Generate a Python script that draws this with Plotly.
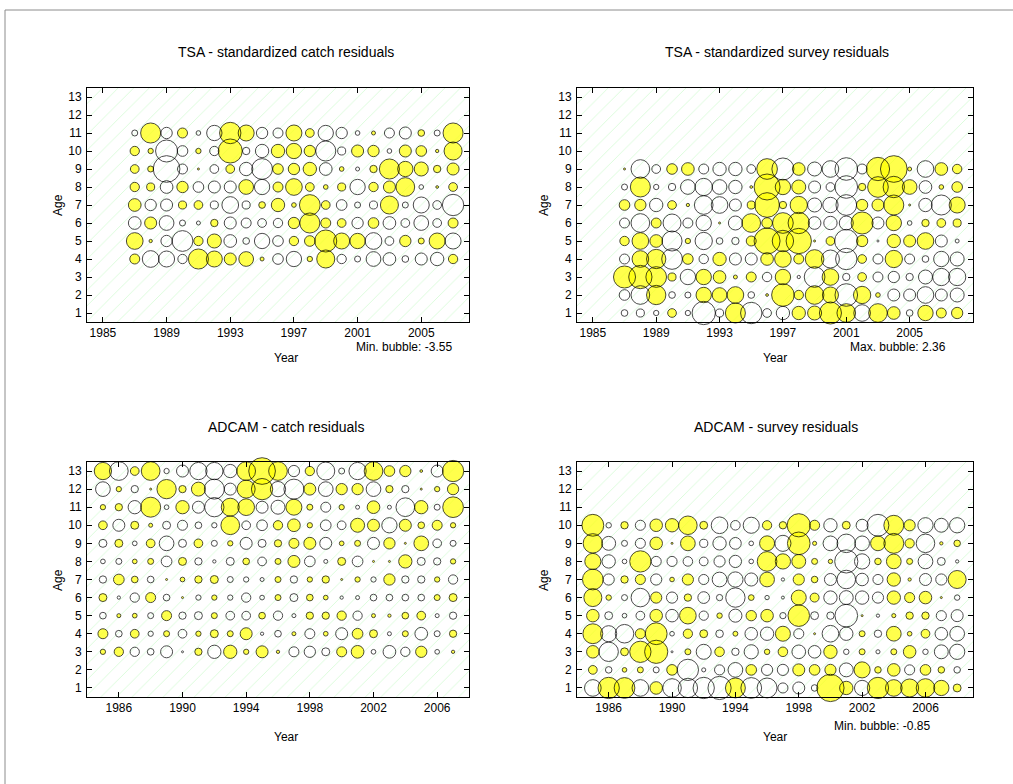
import plotly.graph_objects as go

W, H = 1013, 784

# ---------------- data ----------------
# Panel 1: TSA standardized catch residuals (rows = ages, cols = years)
tsa_catch_years = list(range(1987, 2008))
tsa_catch_ages = [4, 5, 6, 7, 8, 9, 10, 11]
tsa_catch_res = [
    [1.33, -2.22, -2.13, -1.24, 2.67, 2.13, 1.6, 1.96, 0.53, -1.42, -2.04, 0.71, 2.4, -1.24, -0.8, -1.96, -1.69, -0.89, -1.6, -1.78, 1.24],
    [2.22, 0.44, -1.51, -2.76, 1.24, 1.87, -1.69, -0.89, -2.04, -1.42, 1.24, 1.42, 2.93, 2.13, 2.04, -2.22, -1.16, 1.51, 0.8, 2.13, -2.13],
    [-1.69, 1.6, -1.96, -0.8, -0.53, 0.98, -1.6, -1.33, -1.16, -1.24, 1.51, 2.67, 1.33, 1.16, -1.51, 1.42, -1.69, -1.16, -1.96, -1.16, 1.33],
    [1.69, -1.51, -1.6, 1.07, 1.16, -1.07, -2.22, -1.07, 0.89, 1.78, 0.62, 2.76, 1.16, -1.42, -0.8, -1.07, 2.4, -0.8, -2.13, -1.16, -2.84],
    [1.24, 1.07, -1.69, 1.51, -1.42, -1.6, -1.6, 1.96, -2.04, 1.33, 2.22, 1.16, 0.62, 1.07, -2.04, 1.24, 1.6, 2.49, -0.62, 0.36, 1.16],
    [1.16, 0.8, -3.55, -1.33, 0.27, -1.16, 1.16, -1.78, -2.76, 1.42, 1.51, 1.78, -1.69, 0.62, -0.53, 0.98, 2.67, 2.04, 1.87, 0.98, 1.6],
    [1.24, 0.71, -2.93, -1.42, 0.71, -1.24, 3.2, -0.98, -1.78, 1.78, 2.04, 1.51, -2.67, -1.07, 1.6, 1.51, -0.62, 1.6, 1.42, 0.44, 2.4],
    [-0.8, 2.67, -1.51, 1.33, -0.62, -2.04, 2.84, 2.13, -1.51, -1.33, 2.13, 1.16, -2.04, -1.51, -0.62, 0.53, -1.33, -1.6, 0.89, -0.8, 2.67],
]

# Panel 2: TSA standardized survey residuals
tsa_survey_years = list(range(1987, 2009))
tsa_survey_ages = [1, 2, 3, 4, 5, 6, 7, 8, 9]
tsa_survey_res = [
    [-0.59, -0.71, -0.47, 0.77, -0.47, -2.06, -0.71, 1.77, -1.89, -0.77, -1.18, 1.18, 1.24, 1.95, 1.65, -1.47, 1.65, 1.12, -0.59, 1.36, 0.88, 1.0],
    [-0.94, -1.65, 1.71, -0.59, -0.53, 1.36, 1.3, 1.47, -0.59, 0.24, 2.0, 0.83, 1.65, 1.42, -2.0, 1.53, 0.41, -1.06, -1.06, -1.47, -1.06, -1.24],
    [1.95, 2.06, 1.83, 0.71, -1.36, 1.36, 1.12, 0.35, 0.88, -0.83, 1.36, -0.29, -1.83, 1.47, -0.65, 0.77, -0.88, -1.0, -0.65, -1.24, -1.53, -1.53],
    [-0.88, 1.47, 1.71, -1.83, 0.94, -0.83, 1.18, -1.06, -1.06, 1.12, 1.47, 0.88, 1.65, -1.59, -1.89, 0.77, -0.88, 1.53, -0.88, -0.59, -1.36, -1.24],
    [0.83, 1.47, 1.12, -1.77, 0.47, -1.53, -0.59, -0.65, 0.88, 2.3, 1.89, 2.24, 0.18, 0.77, -2.06, 1.0, -0.18, 1.18, 1.06, 1.47, -1.06, -0.35],
    [-0.88, -1.65, 0.88, -1.59, -0.88, -1.36, 0.18, -1.24, 1.65, 0.94, 1.83, 1.89, -1.12, -1.18, -1.24, 1.95, -1.06, 1.36, -0.41, 0.65, 0.77, 0.71],
    [0.94, 1.0, -1.18, 0.77, 0.29, -1.65, -1.47, -1.06, 0.71, 2.18, 0.65, 1.53, -1.24, -1.36, -1.83, 1.0, 1.06, 1.77, 0.05, -1.18, -1.77, 1.42],
    [-0.53, 1.77, -0.47, -0.65, -1.3, -1.53, -1.3, -1.18, 0.24, 2.3, 1.36, 1.24, -1.06, -0.77, -2.0, 0.65, 1.83, 1.89, 1.3, -1.12, 0.41, 0.94],
    [0.18, -1.65, -0.77, 0.94, 1.12, -0.88, -1.18, -1.18, -0.77, 1.83, -1.95, 1.12, -1.24, -1.47, -2.0, -0.88, 2.06, 2.36, 0.35, -1.47, 1.12, 0.83],
]

# Panel 3: ADCAM catch residuals
adcam_catch_years = list(range(1985, 2008))
adcam_catch_ages = [3, 4, 5, 6, 7, 8, 9, 10, 11, 12, 13]
adcam_catch_res = [
    [0.53, 0.93, -0.93, -0.67, -1.2, -0.13, 0.73, -1.33, 1.33, 0.53, 1.2, 0.33, -1.0, -1.13, -0.8, 1.0, 1.27, -0.47, -1.27, -0.93, 1.13, -0.47, 0.33],
    [1.0, -0.67, 0.87, -0.53, 0.6, -0.87, 0.53, 0.8, 0.6, 1.2, -0.33, -0.67, 0.4, -1.0, 0.47, -1.2, 1.07, 0.8, -0.4, 0.6, -1.27, -0.6, 0.73],
    [-0.67, 0.4, 0.47, -0.6, 1.0, -0.73, -0.8, 0.6, -0.87, -0.87, 0.67, -0.93, -0.4, 0.73, 0.73, 0.93, -0.93, 0.4, 0.33, 0.67, 0.87, -0.4, -0.73],
    [0.8, -0.33, -0.93, 1.0, -0.67, 0.13, -0.53, 0.53, -0.53, -0.93, -0.47, 0.6, -0.8, 0.67, 0.47, -0.33, -0.4, -0.67, -0.67, -0.67, -0.67, 0.6, 0.8],
    [-0.73, 1.07, 0.67, -0.67, 0.2, 0.47, 0.73, 0.8, -0.6, -0.53, -0.4, 0.6, -0.73, 0.53, 0.73, 0.2, 0.53, -0.53, 1.13, -0.73, -0.73, 0.53, -0.93],
    [-0.47, -0.6, 0.47, 0.6, -1.07, 0.8, -0.73, -0.33, -0.8, 0.67, -0.87, 0.6, 1.2, -1.07, -0.4, 0.8, -1.07, 0.13, 0.13, 1.33, -0.8, -0.73, 0.53],
    [-0.8, 0.8, -0.47, 0.87, -1.47, -0.8, 0.87, -0.6, 0.53, -1.2, -0.8, 0.73, 1.0, 1.2, -1.2, 0.47, 0.6, -1.2, 1.13, 0.2, 1.47, -0.87, -0.6],
    [0.87, -1.2, 0.8, 0.4, -0.8, -1.0, -0.67, -0.53, 1.87, -0.87, -1.07, 0.93, 1.27, 0.53, -1.07, -0.87, 1.4, 1.2, -1.53, 1.2, 0.67, 1.0, 0.53],
    [0.53, 0.73, -1.33, 2.0, -0.47, 1.33, -1.2, -1.93, 1.8, 1.67, -1.2, -1.4, 1.6, 0.6, -1.0, 0.53, -0.4, 1.27, -0.4, -1.87, 1.33, -0.6, 2.07],
    [-1.47, 0.53, -0.73, 0.2, 1.93, 0.73, 1.4, -2.0, -1.2, 1.8, 2.13, -1.53, -2.0, 1.2, -1.47, 1.13, 1.13, -1.47, 0.73, -0.73, 0.2, 0.53, 1.13],
    [1.73, -1.87, 0.87, 1.87, -0.53, -1.2, -1.73, -1.73, -1.33, 1.87, 2.67, 1.87, -1.13, 0.93, -1.8, -0.6, -1.73, 1.87, 1.07, 1.13, 0.27, -1.2, 2.13],
]

# Panel 4: ADCAM survey residuals
adcam_survey_years = list(range(1985, 2009))
adcam_survey_ages = [1, 2, 3, 4, 5, 6, 7, 8, 9, 10]
adcam_survey_res = [
    [-0.61, 0.78, 0.76, -0.61, 0.46, -0.68, -0.71, -0.78, -0.85, 0.73, -0.76, -0.73, -0.37, -0.44, -0.24, 1.0, 0.49, -0.56, 0.78, 0.61, 0.66, 0.68, 0.56, 0.29],
    [0.32, -0.24, 0.17, 0.22, -0.22, 0.39, -0.78, -0.15, -0.37, -0.54, 0.39, -0.41, -0.41, 0.44, 0.39, 0.41, -0.51, 0.59, 0.24, 0.46, -0.37, 0.39, 0.24, -0.24],
    [0.46, -0.71, 0.29, 0.78, 0.85, -0.05, 0.22, -0.55, 0.35, -0.27, -0.52, 0.2, 0.35, -0.5, -0.46, 0.49, -0.2, 0.22, -0.15, 0.22, 0.46, -0.2, -0.51, -0.56],
    [0.73, -0.59, -0.68, 0.37, 0.8, -0.17, 0.34, 0.29, -0.28, 0.18, -0.46, -0.49, 0.55, -0.37, 0.05, -0.61, -0.49, 0.22, -0.27, 0.54, 0.17, 0.32, -0.46, -0.54],
    [0.46, -0.29, -0.17, -0.32, 0.46, -0.46, 0.61, -0.34, 0.2, -0.48, 0.38, 0.46, -0.23, 0.79, -0.29, -0.27, -0.83, 0.07, -0.12, 0.15, 0.27, 0.27, -0.37, -0.44],
    [0.66, 0.2, -0.22, -0.68, 0.41, -0.41, 0.27, -0.43, -0.23, -0.71, 0.21, -0.16, -0.11, 0.55, 0.33, -0.49, -0.51, -0.49, -0.41, 0.49, 0.37, 0.46, 0.07, -0.2],
    [0.76, -0.41, 0.27, 0.37, -0.41, 0.17, 0.41, -0.37, -0.54, -0.56, -0.48, 0.54, -0.12, 0.41, 0.24, -0.44, -0.68, -0.46, -0.37, 0.49, 0.12, -0.44, -0.41, 0.66],
    [0.59, -0.49, -0.17, 0.78, -0.37, -0.37, -0.35, -0.32, -0.41, -0.45, -0.17, 0.72, 0.56, 0.51, 0.22, 0.16, -0.85, -0.56, 0.24, 0.54, 0.22, -0.54, -0.29, -0.12],
    [0.71, -0.51, -0.22, -0.37, 0.46, 0.05, 0.54, -0.3, -0.49, -0.43, -0.17, 0.55, -0.59, 0.83, 0.15, -0.54, -0.68, -0.54, 0.54, 0.73, 0.34, -0.68, 0.12, 0.24],
    [0.8, -0.2, 0.27, -0.37, 0.46, 0.49, 0.68, 0.29, -0.61, -0.35, -0.59, 0.34, 0.27, 0.85, 0.37, -0.49, 0.29, -0.44, -0.8, 0.73, 0.41, -0.56, -0.51, -0.56],
]

panel_titles = ["TSA - standardized catch residuals", "TSA - standardized survey residuals",
                "ADCAM - catch residuals", "ADCAM - survey residuals"]
bubble_notes = ["Min. bubble: -3.55", "Max. bubble: 2.36", "", "Min. bubble: -0.85"]
xtick_sets = [list(range(1985, 2006, 4)), list(range(1985, 2006, 4)),
              list(range(1986, 2007, 4)), list(range(1986, 2007, 4))]
y_ticks = list(range(1, 14))

# ---------------- layout geometry (pixels) ----------------
panels = [
    dict(years=tsa_catch_years, ages=tsa_catch_ages, res=tsa_catch_res,
         box=(87, 88, 469, 322), xr=[1984, 2008], note_xy=(404, 347), title_xy=(286, 52),
         year_xy=(286, 358), age_xy=(58, 205), maxd=26.7),
    dict(years=tsa_survey_years, ages=tsa_survey_ages, res=tsa_survey_res,
         box=(577, 88, 973, 322), xr=[1984, 2009], note_xy=(898, 347), title_xy=(777, 52),
         year_xy=(775, 358), age_xy=(544, 205), maxd=26.7),
    dict(years=adcam_catch_years, ages=adcam_catch_ages, res=adcam_catch_res,
         box=(87, 462, 469, 697), xr=[1984, 2008], note_xy=None, title_xy=(286, 427),
         year_xy=(286, 737), age_xy=(58, 580), maxd=26.7),
    dict(years=adcam_survey_years, ages=adcam_survey_ages, res=adcam_survey_res,
         box=(577, 462, 973, 697), xr=[1984, 2009], note_xy=(882, 726), title_xy=(776, 427),
         year_xy=(775, 737), age_xy=(544, 580), maxd=27.3),
]

FONT = "Liberation Sans, Arial, Helvetica, sans-serif"
fig = go.Figure()
annotations = []
layout_axes = {}

for i, p in enumerate(panels):
    n = i + 1
    xa = "x" if n == 1 else f"x{n}"
    ya = "y" if n == 1 else f"y{n}"
    x0, y0, x1, y1 = p["box"]

    # faint green hatched background
    fig.add_trace(go.Bar(
        x=[(p["xr"][0] + p["xr"][1]) / 2], y=[13.0], base=[0.5],
        width=[p["xr"][1] - p["xr"][0]],
        marker=dict(color="rgba(0,0,0,0)", line=dict(width=0),
                    pattern=dict(shape="/", fgcolor="rgba(40,235,40,0.5)",
                                 bgcolor="rgba(0,0,0,0)", size=11, solidity=0.06)),
        xaxis=xa, yaxis=ya, hoverinfo="skip", showlegend=False))

    xs, ys, vs = [], [], []
    for ai, age in enumerate(p["ages"]):
        for yi, yr in enumerate(p["years"]):
            xs.append(yr)
            ys.append(age)
            vs.append(p["res"][ai][yi])
    vmax = max(abs(v) for v in vs)
    sizes = [max(abs(v) / vmax * p["maxd"], 2.0) for v in vs]

    pos = [k for k, v in enumerate(vs) if v > 0]
    fig.add_trace(go.Scatter(
        x=[xs[k] for k in pos], y=[ys[k] for k in pos], mode="markers",
        marker=dict(size=[sizes[k] for k in pos], sizemode="diameter", color="#ffff00",
                    line=dict(width=0)),
        cliponaxis=False, xaxis=xa, yaxis=ya, hoverinfo="skip", showlegend=False))
    fig.add_trace(go.Scatter(
        x=xs, y=ys, mode="markers",
        marker=dict(size=sizes, sizemode="diameter", color="rgba(0,0,0,0)",
                    line=dict(width=1, color="black")),
        cliponaxis=False, xaxis=xa, yaxis=ya, hoverinfo="skip", showlegend=False))

    axis_common = dict(showline=True, linecolor="black", linewidth=1, mirror="ticks",
                       ticks="inside", ticklen=5, tickcolor="black", tickwidth=1,
                       showgrid=False, zeroline=False,
                       tickfont=dict(family=FONT, size=12, color="black"))
    layout_axes["xaxis" if n == 1 else f"xaxis{n}"] = dict(
        axis_common, domain=[x0 / W, x1 / W], range=p["xr"], tickvals=xtick_sets[i],
        anchor=ya, ticklabelstandoff=0)
    layout_axes["yaxis" if n == 1 else f"yaxis{n}"] = dict(
        axis_common, domain=[1 - y1 / H, 1 - y0 / H], range=[0.5, 13.5], tickvals=y_ticks,
        anchor=xa, ticklabelstandoff=2)

    def ann(text, xy, size=12, angle=0):
        annotations.append(dict(text=text, x=xy[0] / W, y=1 - xy[1] / H, xref="paper",
                                yref="paper", xanchor="center", yanchor="middle",
                                showarrow=False, textangle=angle,
                                font=dict(family=FONT, size=size, color="black")))

    ann(panel_titles[i], p["title_xy"], size=14)
    ann("Year", p["year_xy"])
    ann("Age", p["age_xy"], angle=-90)
    if p["note_xy"] is not None:
        ann(bubble_notes[i], p["note_xy"])

fig.update_layout(
    width=W, height=H, margin=dict(l=0, r=0, t=0, b=0),
    paper_bgcolor="white", plot_bgcolor="white", showlegend=False,
    annotations=annotations, barmode="overlay",
    shapes=[
        dict(type="line", xref="paper", yref="paper", x0=5 / W, x1=1, y0=1 - 10 / H, y1=1 - 10 / H,
             line=dict(color="#8c8c8c", width=1)),
        dict(type="line", xref="paper", yref="paper", x0=5 / W, x1=5 / W, y0=0, y1=1 - 10 / H,
             line=dict(color="#8c8c8c", width=1)),
    ],
    **layout_axes,
)

fig.write_html("out.html", config={"displayModeBar": False},
               post_script="document.body.style.margin='0px';document.body.style.padding='0px';")
